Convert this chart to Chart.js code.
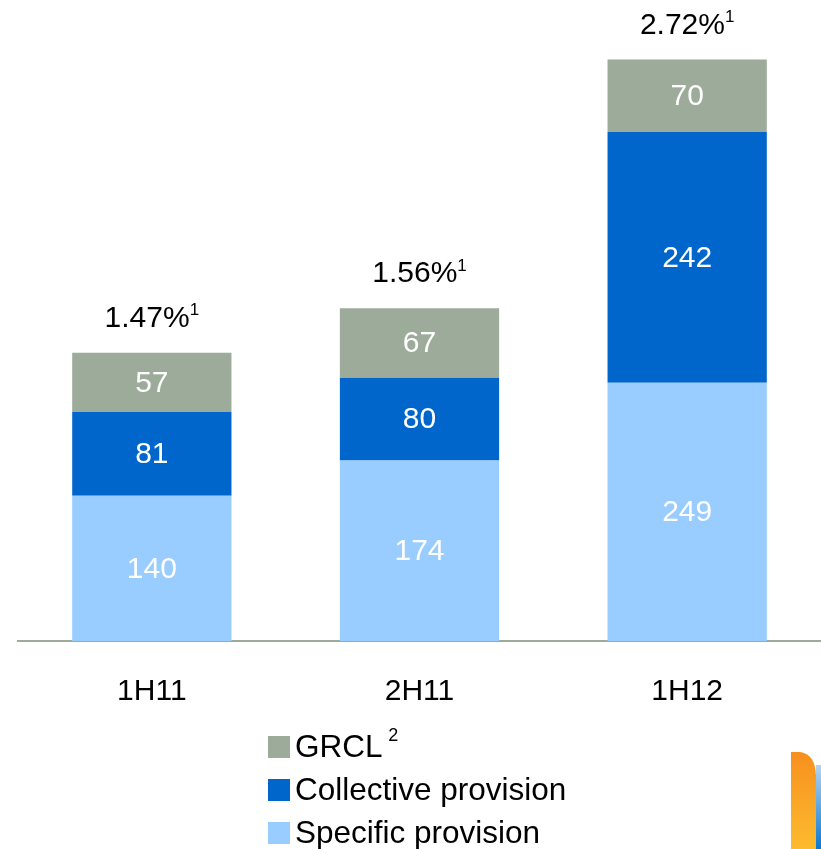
<!DOCTYPE html>
<html>
<head>
<meta charset="utf-8">
<script src="https://cdn.jsdelivr.net/npm/chart.js@4.4.0/dist/chart.umd.min.js"></script>
<style>
  html, body { margin: 0; padding: 0; background: #fff; }
  #wrap { position: relative; width: 821px; height: 849px; }
</style>
</head>
<body>
<div id="wrap"><canvas id="provisions"></canvas></div>
<script>
const periods = ['1H11', '2H11', '1H12']
const specificProvision = [140, 174, 249]
const collectiveProvision = [81, 80, 242]
const grcl = [57, 67, 70]
const ratioLabels = ['1.47%', '1.56%', '2.72%']

const FONT = '"Liberation Sans", Arial, sans-serif'
const colors = {
  grcl: '#9DAB9A',
  collective: '#0066CC',
  specific: '#99CCFF'
}

// value labels inside each segment + ratio above each stack
const stackLabels = {
  id: 'stackLabels',
  afterDatasetsDraw(chart) {
    const ctx = chart.ctx
    ctx.save()
    ctx.textAlign = 'center'
    ctx.textBaseline = 'middle'
    ctx.fillStyle = '#fff'
    ctx.font = '30px ' + FONT
    chart.data.datasets.forEach((ds, i) => {
      chart.getDatasetMeta(i).data.forEach((bar, j) => {
        ctx.fillText(String(ds.data[j]), bar.x, (bar.y + bar.base) / 2 + 1)
      })
    })

    const top = chart.getDatasetMeta(chart.data.datasets.length - 1).data
    ctx.fillStyle = '#000'
    ctx.textAlign = 'left'
    top.forEach((bar, j) => {
      const main = ratioLabels[j]
      ctx.font = '30px ' + FONT
      const w1 = ctx.measureText(main).width
      ctx.font = '17px ' + FONT
      const w2 = ctx.measureText('1').width
      const x0 = bar.x - (w1 + w2) / 2
      const y = bar.y - 34
      ctx.font = '30px ' + FONT
      ctx.fillText(main, x0, y)
      ctx.font = '17px ' + FONT
      ctx.fillText('1', x0 + w1, y - 8)
    })
    ctx.restore()
  }
}

// vertical legend under the axis
const sideLegend = {
  id: 'sideLegend',
  afterDraw(chart) {
    const ctx = chart.ctx
    const items = [
      { text: 'GRCL', sup: '2', color: colors.grcl },
      { text: 'Collective provision', color: colors.collective },
      { text: 'Specific provision', color: colors.specific }
    ]
    ctx.save()
    ctx.textBaseline = 'middle'
    ctx.textAlign = 'left'
    items.forEach((it, i) => {
      const cy = 747 + i * 43
      ctx.fillStyle = it.color
      ctx.fillRect(268, cy - 11, 22, 22)
      ctx.fillStyle = '#000'
      ctx.font = '31.5px ' + FONT
      ctx.fillText(it.text, 295, cy + 1)
      if (it.sup) {
        const w = ctx.measureText(it.text + ' ').width
        ctx.font = '18px ' + FONT
        ctx.fillText(it.sup, 295 + w - 3, cy - 11)
      }
    })

    // corner badge
    const g = ctx.createLinearGradient(0, 752, 0, 849)
    g.addColorStop(0, '#F7901E')
    g.addColorStop(1, '#FDBB2F')
    ctx.fillStyle = g
    ctx.beginPath()
    ctx.moveTo(791, 849)
    ctx.lineTo(791, 752)
    ctx.lineTo(800, 752)
    ctx.quadraticCurveTo(815, 754, 816, 775)
    ctx.lineTo(816, 849)
    ctx.closePath()
    ctx.fill()
    const b = ctx.createLinearGradient(0, 760, 0, 849)
    b.addColorStop(0, '#BFD9F2')
    b.addColorStop(1, '#0A78D0')
    ctx.fillStyle = b
    ctx.fillRect(816, 765, 5, 84)
    ctx.restore()
  }
}

new Chart(document.getElementById('provisions'), {
  type: 'bar',
  data: {
    labels: periods,
    datasets: [
      { label: 'Specific provision', data: specificProvision, backgroundColor: colors.specific },
      { label: 'Collective provision', data: collectiveProvision, backgroundColor: colors.collective },
      { label: 'GRCL', data: grcl, backgroundColor: colors.grcl }
    ]
  },
  options: {
    responsive: true,
    maintainAspectRatio: false,
    animation: false,
    layout: { padding: { top: 19, left: 18, right: -3, bottom: 148 } },
    datasets: { bar: { barPercentage: 0.595, categoryPercentage: 1, borderWidth: 0 } },
    plugins: { legend: { display: false }, tooltip: { enabled: false } },
    scales: {
      x: {
        stacked: true,
        grid: { display: false, drawTicks: false },
        border: { color: '#9EAB9A', width: 2 },
        ticks: { color: '#000', font: { family: FONT, size: 30 }, padding: 33 },
        afterFit(scale) { scale.height = 60 }
      },
      y: {
        stacked: true,
        display: false,
        min: 0,
        max: 600
      }
    }
  },
  plugins: [stackLabels, sideLegend]
})
</script>
</body>
</html>
